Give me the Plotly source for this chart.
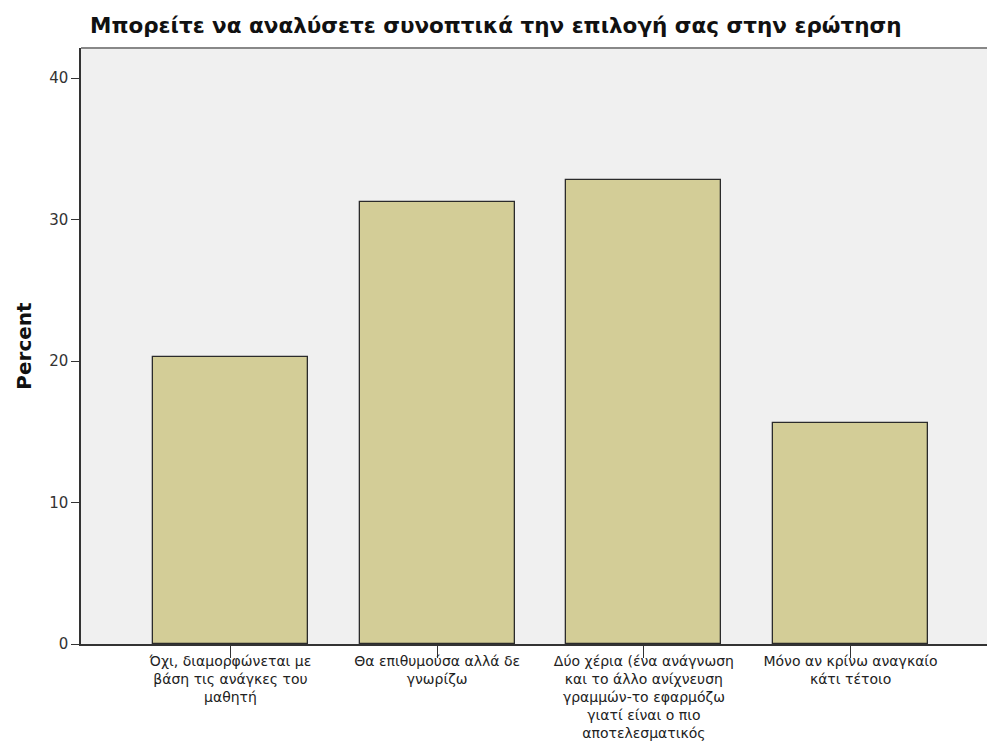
import plotly.graph_objects as go

categories = [
    "Όχι, διαμορφώνεται με<br>βάση τις ανάγκες του<br>μαθητή",
    "Θα επιθυμούσα αλλά δε<br>γνωρίζω",
    "Δύο χέρια (ένα ανάγνωση<br>και το άλλο ανίχνευση<br>γραμμών-το εφαρμόζω<br>γιατί είναι ο πιο<br>αποτελεσματικός",
    "Μόνο αν κρίνω αναγκαίο<br>κάτι τέτοιο",
]
percent = [20.3125, 31.25, 32.8125, 15.625]
y_ticks = [0, 10, 20, 30, 40]
title_text = "Μπορείτε να αναλύσετε συνοπτικά την επιλογή σας στην ερώτηση"
y_title = "Percent"

FONT = "DejaVu Sans, Verdana, sans-serif"
W, H = 987, 744

fig = go.Figure(
    go.Bar(
        x=list(range(len(categories))),
        y=percent,
        width=0.75,
        marker=dict(color="#D3CD97", line=dict(color="#2b2b2b", width=1.3)),
        hoverinfo="y",
    )
)

fig.update_layout(
    width=W,
    height=H,
    margin=dict(l=81, r=0, t=48, b=100, autoexpand=False),
    paper_bgcolor="white",
    plot_bgcolor="#F0F0F0",
    showlegend=False,
    font=dict(family=FONT, color="#222"),
    title=dict(
        text=title_text,
        x=0, xref="paper", xanchor="left",
        y=1 - 25 / H, yref="container", yanchor="middle",
        pad=dict(l=9),
        font=dict(size=21.5, color="#111", family=FONT, weight="bold"),
    ),
    bargap=0,
)

fig.update_xaxes(
    automargin=False,
    range=[-0.723, 3.66],
    tickmode="array",
    tickvals=list(range(len(categories))),
    ticktext=categories,
    ticks="outside",
    ticklen=12,
    ticklabelstandoff=-9,
    tickcolor="#333",
    tickwidth=1.3,
    showline=True,
    linecolor="#333",
    linewidth=1.5,
    showgrid=False,
    zeroline=False,
    tickangle=0,
    tickfont=dict(size=14, color="#222", family=FONT),
)
fig.update_yaxes(
    automargin=False,
    range=[0, 42.12],
    tickmode="array",
    tickvals=y_ticks,
    ticks="outside",
    ticklen=8,
    tickcolor="#333",
    tickwidth=1.3,
    showline=True,
    linecolor="#333",
    linewidth=1.5,
    showgrid=False,
    zeroline=False,
    tickfont=dict(size=15, color="#333", family=FONT),
    title=dict(text=y_title, font=dict(size=20, color="#111", family=FONT, weight="bold"), standoff=12),
)

fig.add_shape(
    type="line", xref="paper", yref="paper",
    x0=0, x1=1, y0=1, y1=1,
    line=dict(color="#888", width=2),
)

fig.write_html(
    "out.html",
    config={"displayModeBar": False},
    post_script="document.body.style.margin='0';document.body.style.overflow='hidden';",
)
